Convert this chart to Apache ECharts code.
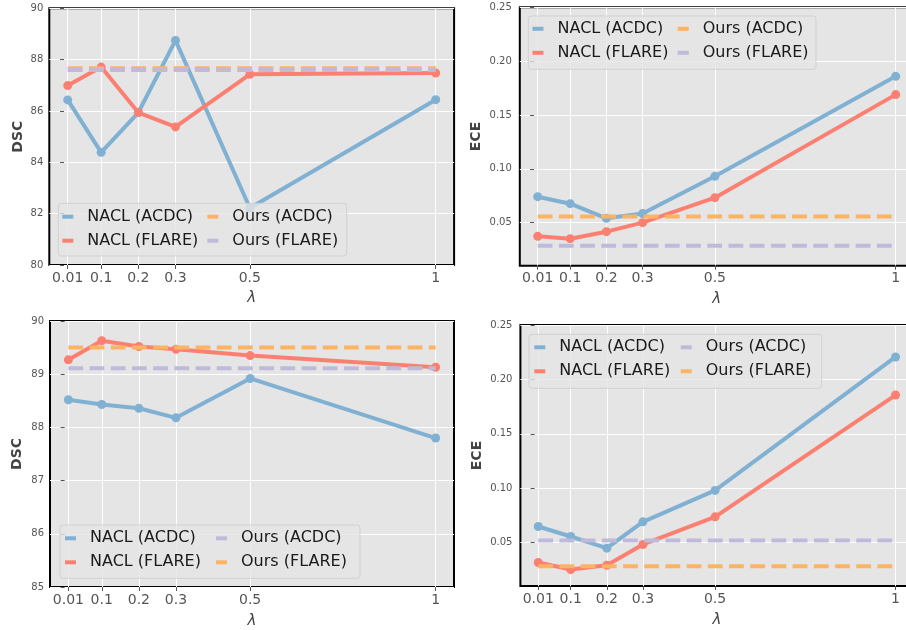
<!DOCTYPE html>
<html>
<head>
<meta charset="utf-8">
<script src="https://cdn.jsdelivr.net/npm/echarts@6/dist/echarts.min.js"></script>
<style>
html,body{margin:0;padding:0;background:#fff;overflow:hidden;width:906px;height:630px;}
#chart{width:920px;height:630px;}
</style>
</head>
<body>
<div id="chart"></div>
<script>
// ---- data ----
const lambdas = [0.01, 0.1, 0.2, 0.3, 0.5, 1];
const xTickValues = [0.01, 0.1, 0.2, 0.3, 0.5, 1];
const eceTickValues = [0.05, 0.10, 0.15, 0.20, 0.25];

// Panel 1: DSC (top-left)
const dsc1NaclAcdc  = [86.43, 84.39, 85.94, 88.75, 82.22, 86.44];
const dsc1NaclFlare = [86.99, 87.71, 85.94, 85.38, 87.43, 87.48];
const dsc1OursAcdc  = 87.66;
const dsc1OursFlare = 87.60;

// Panel 2: ECE (top-right)
const ece2NaclAcdc  = [0.0741, 0.0676, 0.0540, 0.0584, 0.0930, 0.1859];
const ece2NaclFlare = [0.0373, 0.0351, 0.0416, 0.0500, 0.0732, 0.1689];
const ece2OursAcdc  = 0.0556;
const ece2OursFlare = 0.0286;

// Panel 3: DSC (bottom-left)
const dsc3NaclAcdc  = [88.52, 88.43, 88.36, 88.18, 88.92, 87.80];
const dsc3NaclFlare = [89.27, 89.63, 89.52, 89.47, 89.35, 89.13];
const dsc3OursAcdc  = 89.11;
const dsc3OursFlare = 89.50;

// Panel 4: ECE (bottom-right)
const ece4NaclAcdc  = [0.0647, 0.0555, 0.0448, 0.0690, 0.0979, 0.2206];
const ece4NaclFlare = [0.0316, 0.0252, 0.0291, 0.0482, 0.0736, 0.1856];
const ece4OursAcdc  = 0.0518;
const ece4OursFlare = 0.0282;

const legendNames = ['NACL (ACDC)', 'NACL (FLARE)', 'Ours (ACDC)', 'Ours (FLARE)'];

// ---- styling ----
const BLUE = '#80b1d3', RED = '#fb8072', ORANGE = '#fdb462', PURPLE = '#bebada';
const FONT = 'DejaVu Sans';

const grids = [
  {left: 49.3, top: 8.3, width: 404.8, height: 256.7},
  {left: 519.8, top: 7.3, width: 393.8, height: 258.4},
  {left: 50, top: 321, width: 404, height: 266.7},
  {left: 520.4, top: 325, width: 393, height: 261}
];

function xAxis(gi, gap) {
  return {
    gridIndex: gi, type: 'value', min: -0.0395, max: 1.0495,
    name: 'λ', nameLocation: 'middle', nameGap: gap,
    nameTextStyle: {fontFamily: FONT, fontStyle: 'italic', fontSize: 15, color: '#444'},
    axisLine: {show: false},
    axisTick: {show: true, customValues: xTickValues, length: 4, lineStyle: {color: '#555', width: 1}},
    axisLabel: {customValues: xTickValues, fontFamily: FONT, fontSize: 14, color: '#555', margin: 6,
      formatter: v => String(v)},
    splitLine: {show: true, lineStyle: {color: '#ffffff', width: 1}}
  };
}
function yAxis(gi, opt) {
  const ax = {
    gridIndex: gi, type: 'value', min: opt.min, max: opt.max,
    name: opt.name, nameLocation: 'middle', nameGap: opt.gap, nameRotate: 90,
    nameTextStyle: {fontFamily: FONT, fontWeight: 'bold', fontSize: 14, color: '#444'},
    axisLine: {show: false},
    axisTick: {show: true, length: 4, lineStyle: {color: '#555', width: 1}},
    axisLabel: {fontFamily: FONT, fontSize: 10, color: '#555', margin: opt.margin,
      formatter: opt.fmt},
    splitLine: {show: true, lineStyle: {color: '#ffffff', width: 1}}
  };
  if (opt.interval) ax.interval = opt.interval;
  if (opt.ticks) { ax.axisTick.customValues = opt.ticks; ax.axisLabel.customValues = opt.ticks; }
  return ax;
}

function naclSeries(p, gi, label, color, values) {
  return {
    name: p + '|' + label, type: 'line', xAxisIndex: gi, yAxisIndex: gi,
    data: lambdas.map((x, i) => [x, values[i]]),
    color: color, symbol: 'circle', symbolSize: 9, showSymbol: true,
    lineStyle: {color: color, width: 4},
    itemStyle: {color: color},
    z: 2, animation: false, silent: true
  };
}
function oursSeries(p, gi, label, color, value) {
  return {
    name: p + '|' + label, type: 'line', xAxisIndex: gi, yAxisIndex: gi,
    data: [[lambdas[0], value], [lambdas[lambdas.length - 1], value]],
    color: color, symbol: 'none', showSymbol: false,
    lineStyle: {color: color, width: 4, type: [14.8, 6.4]},
    itemStyle: {color: color},
    z: 3, animation: false, silent: true
  };
}

const legendCommon = {
  orient: 'vertical', icon: 'rect', itemWidth: 11, itemHeight: 4, itemGap: 8, padding: 0,
  selectedMode: false, z: 6,
  textStyle: {fontFamily: FONT, fontSize: 16, color: '#1a1a1a', lineHeight: 16, padding: [0, 0, 0, 9]},
  formatter: n => n.split('|')[1]
};
function legends(p, left1, left2, top) {
  return [
    Object.assign({}, legendCommon, {left: left1, top: top, data: [p + '|' + legendNames[0], p + '|' + legendNames[1]]}),
    Object.assign({}, legendCommon, {left: left2, top: top, data: [p + '|' + legendNames[2], p + '|' + legendNames[3]]})
  ];
}
function legendBox(x, y, w, h) {
  return {type: 'rect', z: 5, silent: true,
    shape: {x: x, y: y, width: w, height: h, r: 3},
    style: {fill: 'rgba(229,229,229,0.8)', stroke: 'rgba(204,204,204,0.8)', lineWidth: 1}};
}

const option = {
  animation: false,
  backgroundColor: '#ffffff',
  grid: grids.map(g => Object.assign({show: true, backgroundColor: '#E5E5E5', borderColor: '#000', borderWidth: 2, containLabel: false}, g)),
  xAxis: [xAxis(0, 26), xAxis(1, 26), xAxis(2, 27), xAxis(3, 27)],
  yAxis: [
    yAxis(0, {min: 80, max: 90, interval: 2, name: 'DSC', gap: 24, margin: 6, fmt: v => String(v)}),
    yAxis(1, {min: 0.01, max: 0.25, ticks: eceTickValues, name: 'ECE', gap: 36, margin: 8, fmt: v => v.toFixed(2)}),
    yAxis(2, {min: 85, max: 90, interval: 1, name: 'DSC', gap: 26, margin: 6, fmt: v => String(v)}),
    yAxis(3, {min: 0.01, max: 0.25, ticks: eceTickValues, name: 'ECE', gap: 36, margin: 8, fmt: v => v.toFixed(2)})
  ],
  legend: [].concat(
    legends('p1', 62.3, 207.3, 208.7),
    legends('p2', 532.5, 677.7, 20.8),
    legends('p3', 65, 216, 530.3),
    legends('p4', 534.3, 680.7, 339.3)
  ),
  graphic: [
    legendBox(58.3, 203.3, 288.4, 52.7),
    legendBox(528.3, 16, 287.7, 53.3),
    legendBox(60, 525, 300, 53.3),
    legendBox(529, 334.3, 292.7, 54)
  ],
  series: [
    naclSeries('p1', 0, legendNames[0], BLUE, dsc1NaclAcdc),
    naclSeries('p1', 0, legendNames[1], RED, dsc1NaclFlare),
    oursSeries('p1', 0, legendNames[2], ORANGE, dsc1OursAcdc),
    oursSeries('p1', 0, legendNames[3], PURPLE, dsc1OursFlare),

    naclSeries('p2', 1, legendNames[0], BLUE, ece2NaclAcdc),
    naclSeries('p2', 1, legendNames[1], RED, ece2NaclFlare),
    oursSeries('p2', 1, legendNames[2], ORANGE, ece2OursAcdc),
    oursSeries('p2', 1, legendNames[3], PURPLE, ece2OursFlare),

    naclSeries('p3', 2, legendNames[0], BLUE, dsc3NaclAcdc),
    naclSeries('p3', 2, legendNames[1], RED, dsc3NaclFlare),
    oursSeries('p3', 2, legendNames[2], PURPLE, dsc3OursAcdc),
    oursSeries('p3', 2, legendNames[3], ORANGE, dsc3OursFlare),

    naclSeries('p4', 3, legendNames[0], BLUE, ece4NaclAcdc),
    naclSeries('p4', 3, legendNames[1], RED, ece4NaclFlare),
    oursSeries('p4', 3, legendNames[2], PURPLE, ece4OursAcdc),
    oursSeries('p4', 3, legendNames[3], ORANGE, ece4OursFlare)
  ]
};

const chart = echarts.init(document.getElementById('chart'), null, {renderer: 'canvas'});
chart.setOption(option);
</script>
</body>
</html>
